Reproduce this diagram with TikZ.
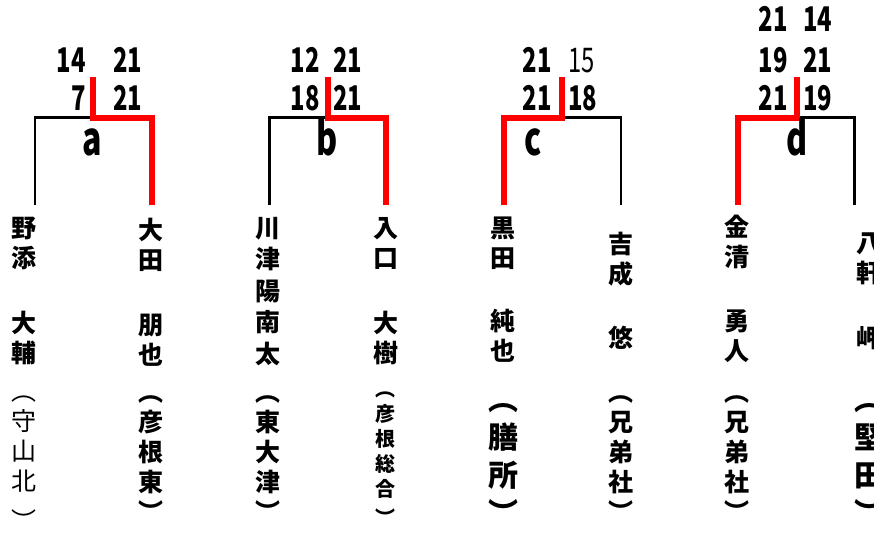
\documentclass[tikz,border=0pt]{standalone}
\usepackage{fontspec}
\setmainfont{Noto Sans CJK JP}
\newfontfamily\jpfont{Noto Sans CJK JP}
\newfontfamily\numfont[FakeStretch=0.7]{Noto Sans CJK JP}

\begin{document}
\begin{tikzpicture}[x=1pt,y=-1pt,
    win/.style={red, line width=6pt},
    lose/.style={black, line width=2.5pt},
    score/.style={inner sep=0pt, font=\numfont\bfseries\fontsize{34}{34}\selectfont},
    letter/.style={inner sep=0pt, anchor=base, font=\numfont\bfseries\fontsize{46}{46}\selectfont},
    pname/.style={inner sep=0pt, anchor=north, align=center,
      font=\jpfont\bfseries\fontsize{25}{30}\selectfont},
    school/.style={pname}]
  \useasboundingbox (0,0) rectangle (874,535);
  \clip (0,0) rectangle (874,535);

  % match a
  \coordinate (a-top) at (93,77);
  \coordinate (a-mid) at (93,117.5);
  \coordinate (a-l) at (35,205);
  \coordinate (a-r) at (152,205);
  \draw[lose] (a-l) |- (a-mid);
  \draw[win] (a-top) -- (a-mid) -| (a-r);
  \node[score, anchor=base east] (a-1l) at (86,72) {14};
  \node[score, anchor=base west] (a-1r) at (113,72) {21};
  \node[score, anchor=base east] (a-2l) at (86,110) {7};
  \node[score, anchor=base west] (a-2r) at (113,110) {21};
  \node[letter] (a-lbl) at (92,155) {a};

  % match b
  \coordinate (b-top) at (328,77);
  \coordinate (b-mid) at (328,117.5);
  \coordinate (b-l) at (269.5,205);
  \coordinate (b-r) at (386,205);
  \draw[lose] (b-l) |- (b-mid);
  \draw[win] (b-top) -- (b-mid) -| (b-r);
  \node[score, anchor=base east] (b-1l) at (320,72) {12};
  \node[score, anchor=base west] (b-1r) at (333,72) {21};
  \node[score, anchor=base east] (b-2l) at (320,110) {18};
  \node[score, anchor=base west] (b-2r) at (333,110) {21};
  \node[letter] (b-lbl) at (327,155) {b};

  % match c
  \coordinate (c-top) at (562,77);
  \coordinate (c-mid) at (562,117.5);
  \coordinate (c-l) at (504,205);
  \coordinate (c-r) at (621,205);
  \draw[lose] (c-r) |- (c-mid);
  \draw[win] (c-top) -- (c-mid) -| (c-l);
  \node[score, anchor=base east] (c-1l) at (552,72) {21};
  \node[score, anchor=base west] (c-1r) at (568,72) {\mdseries 15};
  \node[score, anchor=base east] (c-2l) at (552,110) {21};
  \node[score, anchor=base west] (c-2r) at (568,110) {18};
  \node[letter] (c-lbl) at (533,155) {c};

  % match d
  \coordinate (d-top) at (797,77);
  \coordinate (d-mid) at (797,117.5);
  \coordinate (d-l) at (738,205);
  \coordinate (d-r) at (854.5,205);
  \draw[lose] (d-r) |- (d-mid);
  \draw[win] (d-top) -- (d-mid) -| (d-l);
  \node[score, anchor=base east] (d-1l) at (788,32) {21};
  \node[score, anchor=base west] (d-1r) at (803,32) {14};
  \node[score, anchor=base east] (d-2l) at (788,72) {19};
  \node[score, anchor=base west] (d-2r) at (803,72) {21};
  \node[score, anchor=base east] (d-3l) at (788,110) {21};
  \node[score, anchor=base west] (d-3r) at (803,110) {19};
  \node[letter] (d-lbl) at (797,155) {d};

  % players
  \node[pname] (p1) at (23.5,217) {野\\添\\[35pt]大\\輔};
  \node[school, font=\jpfont\mdseries\fontsize{25}{30}\selectfont] (p1s) at (23.5,396) {︵\\守\\山\\北\\[10pt]︶};
  \node[pname] (p2) at (151,218) {大\\田\\[35pt]朋\\也};
  \node[school] (p2s) at (151,395) {︵\\彦\\根\\東\\︶};
  \node[pname, font=\jpfont\bfseries\fontsize{25}{31.5}\selectfont] (p3) at (268,217) {川\\津\\陽\\南\\太};
  \node[school] (p3s) at (268,395) {︵\\東\\大\\津\\︶};
  \node[pname] (p4) at (386,217) {入\\口\\[35pt]大\\樹};
  \node[school, font=\jpfont\bfseries\fontsize{20}{25}\selectfont] (p4s) at (385,392) {︵\\彦\\根\\総\\合\\[4pt]︶};
  \node[pname] (p5) at (503,217) {黒\\田\\[33pt]純\\也};
  \node[school, font=\jpfont\bfseries\fontsize{30}{38}\selectfont] (p5s) at (503,403) {︵\\膳\\所\\︶};
  \node[pname] (p6) at (621,232) {吉\\成\\[34pt]悠};
  \node[school] (p6s) at (621,395) {︵\\兄\\弟\\社\\︶};
  \node[pname] (p7) at (737,215) {金\\清\\[34pt]勇\\人};
  \node[school] (p7s) at (737,395) {︵\\兄\\弟\\社\\︶};
  \node[pname] (p8) at (869,233) {八\\軒\\[35pt]岬};
  \node[school, font=\jpfont\bfseries\fontsize{30}{38}\selectfont] (p8s) at (869,403) {︵\\堅\\田\\︶};
\end{tikzpicture}
\end{document}
